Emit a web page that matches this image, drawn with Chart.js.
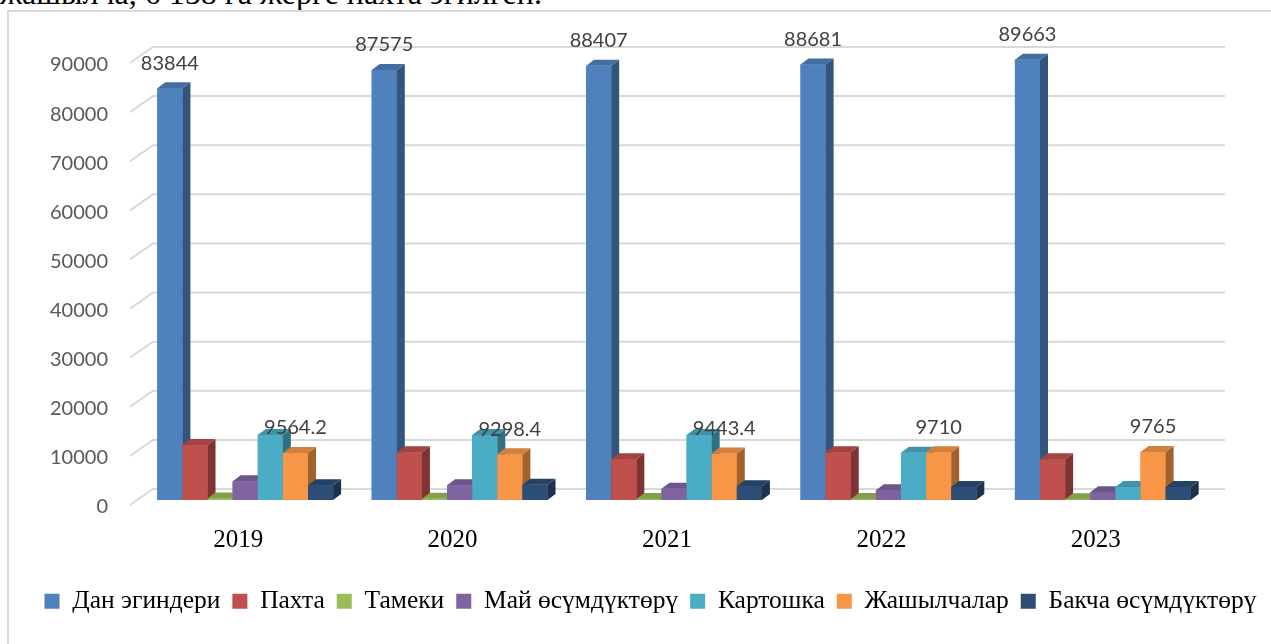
<!DOCTYPE html>
<html><head><meta charset="utf-8">
<script src="https://cdn.jsdelivr.net/npm/chart.js@4.4.0/dist/chart.umd.min.js"></script>
<style>
html,body{margin:0;padding:0;background:#fff;overflow:hidden}
#wrap{position:relative;width:1271px;height:644px;overflow:hidden}
#frame{position:absolute;left:7px;top:10px;width:1400px;height:800px;border-left:2px solid #d9d9d9;border-top:2px solid #d9d9d9}
#toptext{position:absolute;left:0;top:-25px;font-family:"Liberation Serif","Times New Roman",serif;font-size:32px;white-space:nowrap;color:#000}
canvas{position:absolute;left:0;top:0}
</style></head>
<body>
<div id="wrap">
<div id="toptext">жашылча, 6 158 га жерге пахта эгилген.</div>
<div id="frame"></div>
<canvas id="c" width="1271" height="644"></canvas>
</div>
<script>
const categories = ['2019', '2020', '2021', '2022', '2023'];
const seriesNames = ['Дан эгиндери', 'Пахта', 'Тамеки', 'Май өсүмдүктөрү', 'Картошка', 'Жашылчалар', 'Бакча өсүмдүктөрү'];
const danEginderi = [83844, 87575, 88407, 88681, 89663];
const pakhta = [11200, 9700, 8300, 9700, 8300];
const tameki = [300, 250, 200, 200, 150];
const mayOsumdukteru = [3800, 3000, 2300, 2000, 1600];
const kartoshka = [13250, 13230, 13230, 9610, 2660];
const zhashylchalar = [9564.2, 9298.4, 9443.4, 9710, 9765];
const bakcha = [3000, 3100, 2800, 2650, 2650];
const yTicks = [0, 10000, 20000, 30000, 40000, 50000, 60000, 70000, 80000, 90000];
const colors = ['#4f81bd', '#c0504d', '#9bbb59', '#8064a2', '#4bacc6', '#f79646', '#2c4d75'];
const labelledSeries = [0, 5];

const seriesValues = [danEginderi, pakhta, tameki, mayOsumdukteru, kartoshka, zhashylchalar, bakcha];

function shade(hex, f) {
  const n = parseInt(hex.slice(1), 16);
  const r = Math.round(((n >> 16) & 255) * f), g = Math.round(((n >> 8) & 255) * f), b = Math.round((n & 255) * f);
  return `rgb(${r},${g},${b})`;
}
const DX = 8, DY = 6;

const threeD = {
  id: 'threeD',
  beforeDatasetsDraw(chart) {
    const ys = chart.scales.y, ctx = chart.ctx, a = chart.chartArea;
    ctx.save();
    ctx.strokeStyle = '#d9d9d9';
    ctx.lineWidth = 2;
    yTicks.forEach(v => {
      const py = ys.getPixelForValue(v);
      ctx.beginPath();
      ctx.moveTo(a.left - 8, py + 5);
      ctx.lineTo(a.left + 15, py - 11);
      ctx.lineTo(a.right + 15, py - 11);
      ctx.stroke();
    });
    ctx.restore();
  },
  afterDatasetsDraw(chart) {
    const ctx = chart.ctx;
    const n = chart.data.labels.length;
    ctx.save();
    for (let j = 0; j < n; j++) {
      chart.data.datasets.forEach((ds, i) => {
        const el = chart.getDatasetMeta(i).data[j];
        if (!el) return;
        const {x, y, base, width} = el.getProps(['x', 'y', 'base', 'width'], true);
        const l = x - width / 2, r = x + width / 2;
        const c = colors[i];
        ctx.fillStyle = c;
        ctx.fillRect(l, y, width, base - y);
        ctx.fillStyle = shade(c, 0.65);
        ctx.beginPath();
        ctx.moveTo(r, y); ctx.lineTo(r + DX, y - DY); ctx.lineTo(r + DX, base - DY); ctx.lineTo(r, base);
        ctx.closePath(); ctx.fill();
        ctx.fillStyle = shade(c, 0.85);
        ctx.beginPath();
        ctx.moveTo(l, y); ctx.lineTo(l + DX, y - DY); ctx.lineTo(r + DX, y - DY); ctx.lineTo(r, y);
        ctx.closePath(); ctx.fill();
      });
    }
    ctx.font = '20px Lato';
    ctx.fillStyle = '#404040';
    ctx.textAlign = 'center';
    ctx.textBaseline = 'middle';
    labelledSeries.forEach(i => {
      chart.getDatasetMeta(i).data.forEach((el, j) => {
        const {x, y} = el.getProps(['x', 'y'], true);
        ctx.fillText(String(seriesValues[i][j]), x, y - 25);
      });
    });
    ctx.restore();
  }
};

new Chart(document.getElementById('c'), {
  type: 'bar',
  data: {
    labels: categories,
    datasets: seriesNames.map((name, i) => ({
      label: name,
      data: seriesValues[i],
      backgroundColor: colors[i],
      borderWidth: 0,
      barPercentage: 1,
      categoryPercentage: 0.82,
      yAxisID: 'y'
    }))
  },
  options: {
    responsive: false,
    animation: false,
    events: [],
    layout: {padding: {left: 30, right: 0, top: 58, bottom: 20}},
    scales: {
      x: {
        grid: {display: false},
        border: {display: false},
        ticks: {font: {family: 'Liberation Serif', size: 25}, color: '#000', padding: 17, labelOffset: -7},
        afterFit(s) { s.height = 76.5; }
      },
      y: {
        min: 0, max: 90000,
        grid: {display: false},
        border: {display: false},
        ticks: {stepSize: 10000, font: {family: 'Lato', size: 20}, color: '#595959', padding: 22, labelOffset: 7,
          callback: v => String(v)},
        afterFit(s) { s.width = 108; }
      },
      yRight: {
        position: 'right',
        min: 0, max: 90000,
        grid: {display: false},
        border: {display: false},
        ticks: {display: false},
        afterFit(s) { s.width = 61; }
      }
    },
    plugins: {
      legend: {
        position: 'bottom',
        labels: {boxWidth: 15, boxHeight: 15, font: {family: 'Liberation Serif', size: 25.5}, color: '#000', padding: 12}
      },
      tooltip: {enabled: false}
    }
  },
  plugins: [threeD]
});
</script>
</body></html>
